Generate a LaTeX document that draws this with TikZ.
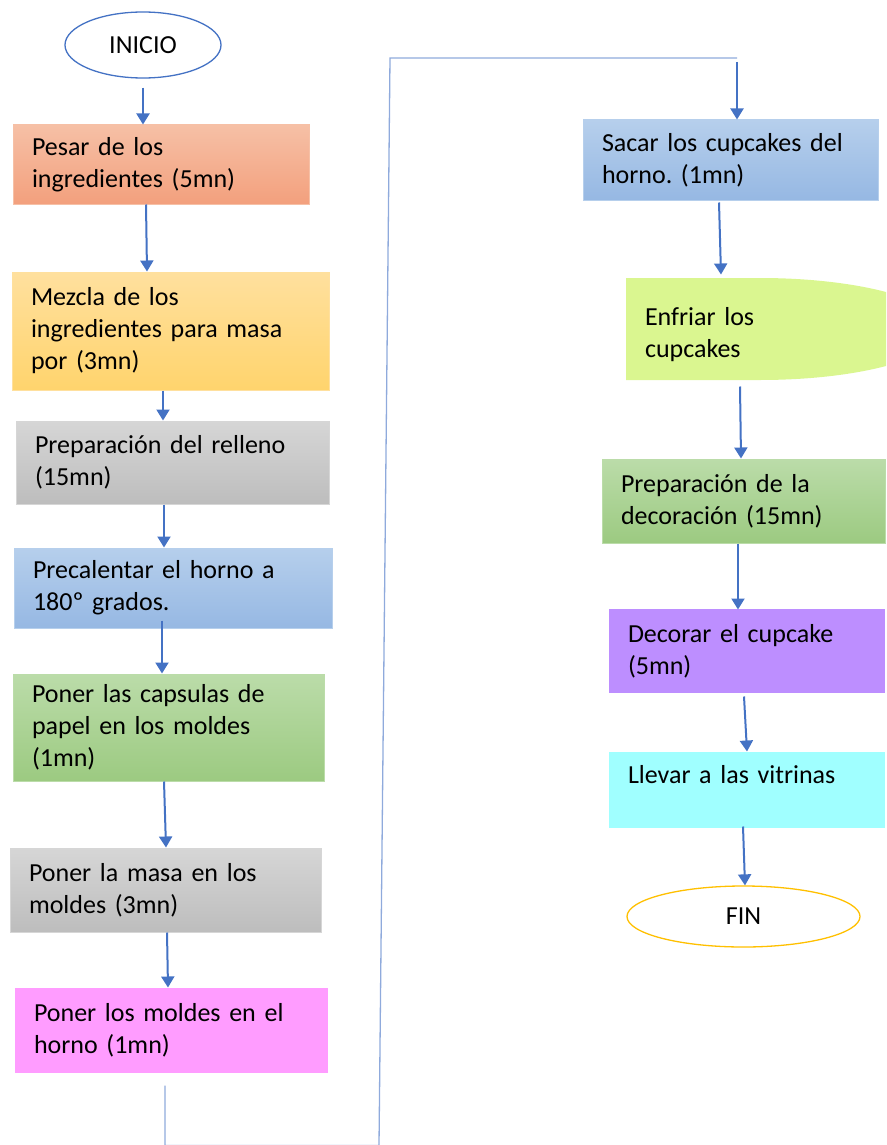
\documentclass[tikz,border=0pt]{standalone}
\usepackage{fontspec}
\setmainfont{Carlito}
\usetikzlibrary{arrows.meta,shapes.geometric}

\definecolor{flechaazul}{HTML}{4472C4}
\definecolor{lazoazul}{HTML}{8FAADC}
\definecolor{naranjaA}{HTML}{F6C0A6}
\definecolor{naranjaB}{HTML}{F3A07D}
\definecolor{amarilloA}{HTML}{FFE09E}
\definecolor{amarilloB}{HTML}{FFD46D}
\definecolor{grisA}{HTML}{D6D6D6}
\definecolor{grisB}{HTML}{BDBDBD}
\definecolor{azulA}{HTML}{B6CFEC}
\definecolor{azulB}{HTML}{96B8E3}
\definecolor{verdeA}{HTML}{BBDCA9}
\definecolor{verdeB}{HTML}{9CCA81}
\definecolor{rosa}{HTML}{FF9CFF}
\definecolor{lima}{HTML}{DAF690}
\definecolor{morado}{HTML}{BD8EFF}
\definecolor{cian}{HTML}{A0FFFF}
\definecolor{dorado}{HTML}{FFC000}

\frenchspacing

\begin{document}
\begin{tikzpicture}[x=1pt,y=-1pt,
    paso/.style={rectangle, align=left, inner xsep=19pt, inner ysep=0pt,
      line width=1pt, font=\fontsize{26}{32}\selectfont},
    extremo/.style={ellipse, fill=white, line width=1.3pt, inner sep=0pt,
      font=\fontsize{26}{32}\selectfont},
    flecha/.style={draw=flechaazul, line width=2pt, -{Triangle[length=11pt,width=13pt]}},
    lazo/.style={draw=lazoazul, line width=1.3pt}]

    \useasboundingbox (0,0) rectangle (886,1145);
    \clip (0,0) rectangle (886,1145);

    % left column
    \node[extremo, draw=flechaazul, minimum width=156pt, minimum height=66pt] (inicio) at (143,45) {INICIO};
    \node[paso, draw=naranjaA, top color=naranjaA, bottom color=naranjaB,
      minimum width=296pt, minimum height=79pt, text width=258pt] (pesar) at (161,164.5)
      {Pesar de los\\ingredientes (5mn)};
    \node[paso, draw=amarilloA, top color=amarilloA, bottom color=amarilloB,
      minimum width=317pt, minimum height=118pt, text width=279pt] (mezcla) at (170.5,331)
      {Mezcla de los\\ingredientes para masa\\por (3mn)};
    \node[paso, draw=grisA, top color=grisA, bottom color=grisB,
      minimum width=313pt, minimum height=83pt, text width=275pt] (relleno) at (172.5,462.5)
      {Preparación del relleno\\(15mn)};
    \node[paso, draw=azulA, top color=azulA, bottom color=azulB,
      minimum width=318pt, minimum height=80pt, text width=280pt] (horno) at (173,588)
      {Precalentar el horno a\\180º grados.};
    \node[paso, draw=verdeA, top color=verdeA, bottom color=verdeB,
      minimum width=311pt, minimum height=107pt, text width=273pt] (capsulas) at (168.5,727.5)
      {Poner las capsulas de\\papel en los moldes\\(1mn)};
    \node[paso, draw=grisA, top color=grisA, bottom color=grisB,
      minimum width=311pt, minimum height=84pt, text width=273pt] (masa) at (165.5,890)
      {Poner la masa en los\\moldes (3mn)};
    \node[paso, fill=rosa,
      minimum width=313pt, minimum height=85pt, text width=275pt] (moldes) at (171.5,1030.5)
      {Poner los moldes en el\\horno (1mn)};

    % right column
    \node[paso, draw=azulA, top color=azulA, bottom color=azulB,
      minimum width=295pt, minimum height=80pt, text width=257pt] (sacar) at (730.5,160)
      {Sacar los cupcakes del\\horno. (1mn)};
    \fill[lima] (626,278) -- (760,278)
      arc[start angle=90, end angle=-90, x radius=183pt, y radius=51pt]
      -- (626,380) -- cycle;
    \node[paso, minimum width=260pt, minimum height=102pt, text width=222pt] (enfriar) at (756,335)
      {Enfriar los\\cupcakes};
    \node[paso, draw=verdeA, top color=verdeA, bottom color=verdeB,
      minimum width=283pt, minimum height=84pt, text width=245pt] (decoracion) at (743.5,501)
      {Preparación de la\\decoración (15mn)};
    \node[paso, fill=morado,
      minimum width=276pt, minimum height=84pt, text width=238pt] (decorar) at (747,651)
      {Decorar el cupcake\\(5mn)};
    \node[paso, fill=cian,
      minimum width=276pt, minimum height=76pt, text width=238pt] (llevar) at (747,790)
      {Llevar a las vitrinas\\\mbox{}};
    \node[extremo, draw=dorado, minimum width=233pt, minimum height=61pt] (fin) at (743.5,916.5) {FIN};

    % arrows
    \draw[flecha] ([yshift=-9pt]inicio.south) -- (inicio.south |- pesar.north);
    \draw[flecha] ([xshift=-15pt]pesar.south) -- ([xshift=-23.5pt]mezcla.north);
    \draw[flecha] ([xshift=-7.5pt]mezcla.south) -- ([xshift=-9.5pt]relleno.north);
    \draw[flecha] ([xshift=-8.5pt]relleno.south) -- ([xshift=-9pt]horno.north);
    \draw[flecha] ([xshift=-11pt,yshift=8pt]horno.south) -- ([xshift=-6.5pt]capsulas.north);
    \draw[flecha] ([xshift=-4.5pt]capsulas.south) -- ([xshift=0.5pt]masa.north);
    \draw[flecha] ([xshift=1.5pt]masa.south) -- ([xshift=-3.5pt]moldes.north);

    % long return line to the second column
    \coordinate (vueltaA) at (379,1145.5);
    \coordinate (vueltaB) at (390,58);
    \coordinate (vueltaC) at (737,58);
    \draw[lazo] ([xshift=-6.5pt,yshift=-12pt]moldes.south) |- (vueltaA) -- (vueltaB) -- (vueltaC);
    \draw[flecha] ([yshift=-4pt]vueltaC) -- ([xshift=6.5pt]sacar.north);

    \draw[flecha] ([xshift=-11.5pt,yshift=-2pt]sacar.south) -- ([xshift=-35pt,yshift=9pt]enfriar.north);
    \draw[flecha] ([xshift=-16pt]enfriar.south) -- ([xshift=-2.5pt]decoracion.north);
    \draw[flecha] ([xshift=-5.5pt]decoracion.south) -- ([xshift=-9pt,yshift=-1pt]decorar.north);
    \draw[flecha] ([xshift=-3pt,yshift=-3pt]decorar.south) -- (llevar.north);
    \draw[flecha] ([xshift=-4pt,yshift=2pt]llevar.south) -- ([xshift=1.5pt]fin.north);

\end{tikzpicture}
\end{document}
